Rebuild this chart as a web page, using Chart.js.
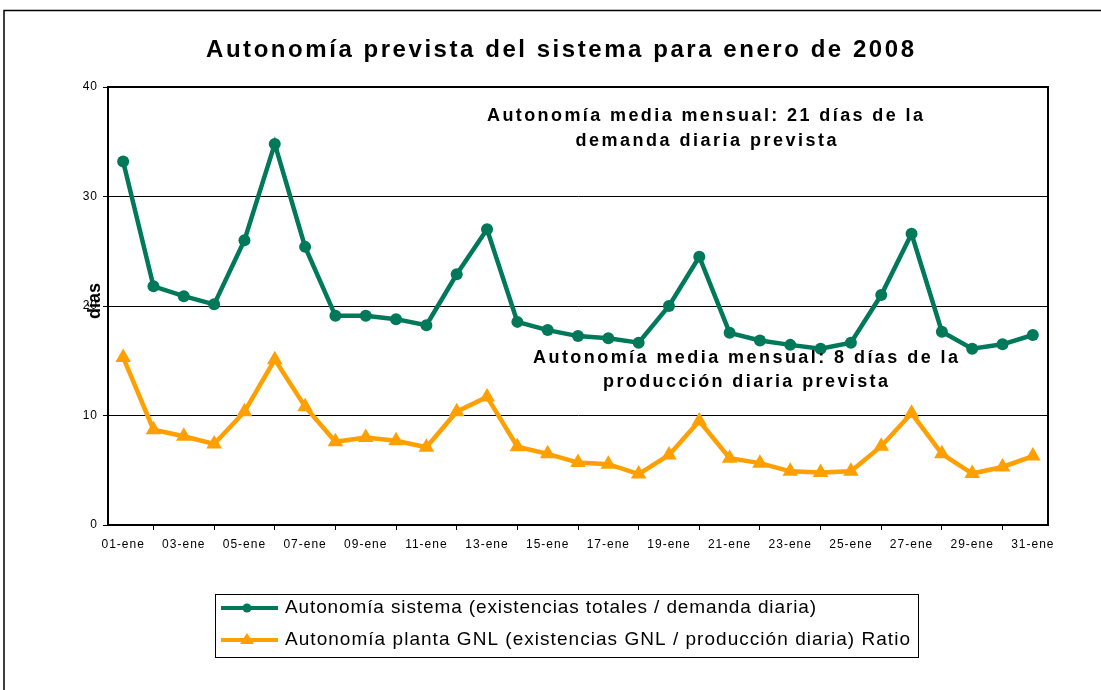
<!DOCTYPE html>
<html><head><meta charset="utf-8">
<script src="https://cdn.jsdelivr.net/npm/chart.js@4"></script>
<style>html,body{margin:0;padding:0;background:#fff;overflow:hidden}canvas{display:block}</style>
</head><body>
<canvas id="c" width="1101" height="690"></canvas>
<script>
const chartTitle = 'Autonomía prevista del sistema para enero de 2008';
const categories = ['01-ene','02-ene','03-ene','04-ene','05-ene','06-ene','07-ene','08-ene','09-ene','10-ene',
  '11-ene','12-ene','13-ene','14-ene','15-ene','16-ene','17-ene','18-ene','19-ene','20-ene',
  '21-ene','22-ene','23-ene','24-ene','25-ene','26-ene','27-ene','28-ene','29-ene','30-ene','31-ene'];
const sistemaValues = [33.2,21.8,20.9,20.15,26.0,34.8,25.4,19.1,19.1,18.8,
  18.25,22.9,27.0,18.55,17.8,17.25,17.05,16.65,20.0,24.5,
  17.55,16.85,16.45,16.1,16.65,21.0,26.6,17.65,16.1,16.5,17.35];
const plantaValues = [15.3,8.7,8.1,7.4,10.35,15.1,10.8,7.6,8.0,7.7,
  7.1,10.35,11.7,7.15,6.5,5.7,5.55,4.65,6.4,9.5,
  6.1,5.65,4.9,4.8,4.9,7.2,10.2,6.5,4.7,5.3,6.3];
const seriesLabels = ['Autonomía sistema (existencias totales / demanda diaria)',
  'Autonomía planta GNL (existencias GNL / producción diaria) Ratio'];
const yTicks = [0,10,20,30,40];
const yAxisTitle = 'días';
const noteDemanda = ['Autonomía media mensual: 21 días de la','demanda diaria prevista'];
const noteProduccion = ['Autonomía media mensual: 8 días de la','producción diaria prevista'];

const GREEN = '#00785A', ORANGE = '#FF9F00';
const FONT = '"Liberation Sans", Arial, sans-serif';

function drawFit(ctx, text, left, cy, font, width) {
  ctx.save();
  ctx.font = font; ctx.letterSpacing = '0px';
  const w = ctx.measureText(text).width;
  const n = [...text].length;
  const sp = (width - w) / (n - 1);
  ctx.letterSpacing = sp + 'px';
  ctx.textAlign = 'left'; ctx.textBaseline = 'middle'; ctx.fillStyle = '#000';
  ctx.fillText(text, left, cy);
  ctx.restore();
}
function drawFitC(ctx, text, cx, cy, font, width) { drawFit(ctx, text, cx - width / 2, cy, font, width); }

const decor = {
  id: 'decor',
  beforeDraw(chart) {
    const ctx = chart.ctx;
    ctx.save();
    ctx.fillStyle = '#fff'; ctx.fillRect(0, 0, chart.width, chart.height);
    ctx.strokeStyle = '#000'; ctx.lineWidth = 1.5;
    ctx.beginPath(); ctx.moveTo(4, 700); ctx.lineTo(4, 10.5); ctx.lineTo(1110, 10.5); ctx.stroke();
    ctx.restore();
    ctx.letterSpacing = '1px';
  },
  afterDraw(chart) {
    const ctx = chart.ctx, a = chart.chartArea;
    ctx.letterSpacing = '0px';
    ctx.save();
    ctx.strokeStyle = '#000'; ctx.lineWidth = 2;
    ctx.strokeRect(a.left, a.top, a.right - a.left, a.bottom - a.top);
    // title
    drawFitC(ctx, chartTitle, 560, 50, 'bold 24px ' + FONT, 708);
    // notes
    drawFitC(ctx, noteDemanda[0], 705, 116, 'bold 18px ' + FONT, 436);
    drawFitC(ctx, noteDemanda[1], 706, 141, 'bold 18px ' + FONT, 261);
    drawFitC(ctx, noteProduccion[0], 745.5, 358, 'bold 18px ' + FONT, 425);
    drawFitC(ctx, noteProduccion[1], 745.5, 382, 'bold 18px ' + FONT, 285);
    // y title
    ctx.save();
    ctx.translate(95, 301); ctx.rotate(-Math.PI / 2);
    ctx.font = 'bold 18px ' + FONT; ctx.fillStyle = '#000';
    ctx.textAlign = 'center'; ctx.textBaseline = 'middle';
    ctx.fillText(yAxisTitle, 0, 0);
    ctx.restore();
    // legend
    ctx.lineWidth = 1; ctx.strokeStyle = '#000';
    ctx.strokeRect(215.5, 594.5, 703, 63);
    const rows = [608, 640];
    const widths = [531, 625];
    chart.data.datasets.forEach((ds, i) => {
      const y = rows[i];
      ctx.strokeStyle = ds.borderColor; ctx.lineWidth = 4;
      ctx.beginPath(); ctx.moveTo(221, y); ctx.lineTo(278, y); ctx.stroke();
      ctx.fillStyle = ds.borderColor;
      ctx.beginPath();
      if (ds.pointStyle === 'triangle') {
        ctx.moveTo(247, y - 7); ctx.lineTo(254, y + 4); ctx.lineTo(240, y + 4); ctx.closePath();
      } else {
        ctx.arc(247, y, 4.5, 0, Math.PI * 2);
      }
      ctx.fill();
      drawFit(ctx, ds.label, 285, y, '19px ' + FONT, widths[i]);
    });
    ctx.restore();
  }
};

new Chart(document.getElementById('c'), {
  type: 'line',
  data: {
    labels: categories,
    datasets: [
      { label: seriesLabels[0], data: sistemaValues, borderColor: GREEN, backgroundColor: GREEN,
        borderWidth: 4.5, pointStyle: 'circle', pointRadius: 6, pointBorderWidth: 0, tension: 0 },
      { label: seriesLabels[1], data: plantaValues, borderColor: ORANGE, backgroundColor: ORANGE,
        borderWidth: 4.5, pointStyle: 'triangle', pointRadius: 9, pointBorderWidth: 0, tension: 0 }
    ]
  },
  options: {
    responsive: false, animation: false, devicePixelRatio: 1,
    layout: { padding: { left: 78, right: 53, top: 87, bottom: 135 } },
    plugins: { legend: { display: false }, title: { display: false }, tooltip: { enabled: false } },
    scales: {
      x: {
        offset: true,
        afterFit(s) { s.height = 30; },
        grid: { display: true, drawOnChartArea: false, drawTicks: true, tickLength: 5, color: '#000', offset: true },
        border: { display: true, color: '#000', width: 2 },
        ticks: { autoSkip: false, maxRotation: 0, padding: 7, color: '#000', font: { family: FONT, size: 12 },
          callback(v, i) { return i % 2 === 0 ? categories[i] : null; } }
      },
      y: {
        min: 0, max: 40,
        afterFit(s) { s.width = 30; },
        afterBuildTicks(s) { s.ticks = yTicks.map(v => ({ value: v })); },
        grid: { color: '#000', lineWidth: 1, drawTicks: true, tickLength: 5, tickColor: '#000' },
        border: { display: true, color: '#000', width: 2 },
        ticks: { padding: 5, color: '#000', font: { family: FONT, size: 12 } }
      }
    }
  },
  plugins: [decor]
});
</script>
</body></html>
